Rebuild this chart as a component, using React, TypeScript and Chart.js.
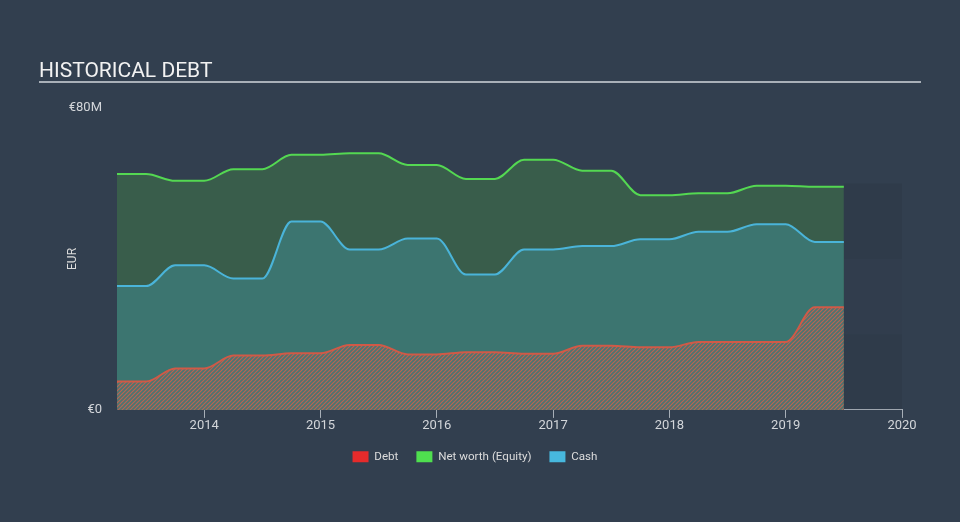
import React, { useEffect, useRef } from 'react';
import { Chart, registerables } from 'chart.js';

Chart.register(...registerables);

// ---- data (EUR millions) ----
const quarters = [
  2013.25, 2013.5, 2013.75, 2014.0, 2014.25, 2014.5, 2014.75, 2015.0, 2015.25, 2015.5,
  2015.75, 2016.0, 2016.25, 2016.5, 2016.75, 2017.0, 2017.25, 2017.5, 2017.75, 2018.0,
  2018.25, 2018.5, 2018.75, 2019.0, 2019.25, 2019.5,
];
const debt = [
  7.5, 7.5, 11.0, 11.0, 14.4, 14.4, 15.0, 15.0, 17.2, 17.2,
  14.7, 14.7, 15.3, 15.3, 14.9, 14.9, 17.0, 17.0, 16.6, 16.6,
  18.0, 18.0, 18.0, 18.0, 27.2, 27.2,
];
const equity = [
  62.5, 62.5, 60.7, 60.7, 63.8, 63.8, 67.6, 67.6, 68.0, 68.0,
  64.9, 64.9, 61.2, 61.2, 66.3, 66.3, 63.4, 63.4, 56.9, 56.9,
  57.4, 57.4, 59.4, 59.4, 59.1, 59.1,
];
const cash = [
  32.8, 32.8, 38.3, 38.3, 34.8, 34.8, 49.9, 49.9, 42.5, 42.5,
  45.4, 45.4, 35.9, 35.9, 42.5, 42.5, 43.4, 43.4, 45.2, 45.2,
  47.2, 47.2, 49.2, 49.2, 44.5, 44.5,
];
const xTickYears = [2014, 2015, 2016, 2017, 2018, 2019, 2020];
const yTickValues = [0, 80];
const seriesNames = ['Debt', 'Net worth (Equity)', 'Cash'];
const legendColors = ['#e52b2b', '#4fdf4f', '#47b8de'];
const forecastEnd = 2020;
const forecastBands = [0, 20, 40, 60];
const titleText = 'HISTORICAL DEBT';
const yAxisTitle = 'EUR';

const BG = '#323f4f';

function makeHatch(): CanvasPattern | string {
  const c = document.createElement('canvas');
  c.width = 4;
  c.height = 4;
  const g = c.getContext('2d');
  if (!g) return 'rgba(200,90,70,0.5)';
  g.fillStyle = 'rgba(120,120,115,0.25)';
  g.fillRect(0, 0, 4, 4);
  g.strokeStyle = 'rgba(210,95,75,0.85)';
  g.lineWidth = 1.1;
  g.beginPath();
  g.moveTo(0, 4);
  g.lineTo(4, 0);
  g.moveTo(-1, 1);
  g.lineTo(1, -1);
  g.moveTo(3, 5);
  g.lineTo(5, 3);
  g.stroke();
  const p = g.createPattern(c, 'repeat');
  return p || 'rgba(200,90,70,0.5)';
}

const titlePlugin = {
  id: 'titleBg',
  beforeDraw(chart: any) {
    const { ctx, width, height } = chart;
    ctx.save();
    ctx.fillStyle = BG;
    ctx.fillRect(0, 0, width, height);
    ctx.fillStyle = '#f2f2f2';
    ctx.font = '21px Roboto';
    ctx.textBaseline = 'alphabetic';
    ctx.textAlign = 'left';
    ctx.fillText(titleText, 39, 77);
    ctx.fillStyle = '#a9b0b8';
    ctx.fillRect(39, 81, 882, 2);
    ctx.restore();
  },
};

const forecastPlugin = {
  id: 'forecast',
  beforeDatasetsDraw(chart: any) {
    const { ctx, scales } = chart;
    const xs = scales.x;
    const ys = scales.y;
    const x0 = xs.getPixelForValue(quarters[quarters.length - 1]);
    const x1 = xs.getPixelForValue(forecastEnd);
    const shades = ['rgba(0,0,0,0.055)', 'rgba(0,0,0,0.02)', 'rgba(0,0,0,0.055)'];
    ctx.save();
    for (let i = 0; i < forecastBands.length - 1; i++) {
      const yTop = ys.getPixelForValue(forecastBands[i + 1]);
      const yBot = ys.getPixelForValue(forecastBands[i]);
      ctx.fillStyle = shades[i];
      ctx.fillRect(x0, yTop, x1 - x0, yBot - yTop);
    }
    ctx.restore();
  },
};

export default function App() {
  const ref = useRef<HTMLCanvasElement | null>(null);

  useEffect(() => {
    document.body.style.margin = '0';
    document.body.style.background = BG;
    const canvas = ref.current;
    if (!canvas) return;
    const hatch = makeHatch();
    const pts = (arr: number[]) => quarters.map((q, i) => ({ x: q, y: arr[i] }));
    const common = {
      pointRadius: 0,
      pointHoverRadius: 0,
      borderWidth: 2,
      cubicInterpolationMode: 'monotone' as const,
      fill: 'origin',
    };
    const chart = new Chart(canvas, {
      type: 'line',
      data: {
        datasets: [
          {
            ...common,
            label: seriesNames[0],
            data: pts(debt),
            borderColor: '#d05a47',
            backgroundColor: hatch as any,
            order: 0,
          },
          {
            ...common,
            label: seriesNames[1],
            data: pts(equity),
            borderColor: '#54d852',
            backgroundColor: '#395d4b',
            order: 2,
          },
          {
            ...common,
            label: seriesNames[2],
            data: pts(cash),
            borderColor: '#4ab4d9',
            backgroundColor: '#3c7570',
            order: 1,
          },
        ] as any,
      },
      options: {
        animation: false,
        responsive: false,
        maintainAspectRatio: false,
        events: [],
        layout: { padding: { left: 48, right: 58, top: 108, bottom: 49.5 } },
        plugins: {
          tooltip: { enabled: false },
          legend: {
            position: 'bottom',
            labels: {
              color: '#dcdcdc',
              font: { family: 'Roboto', size: 11.6 },
              boxWidth: 16,
              boxHeight: 11,
              padding: 18,
              generateLabels: (ch: any) =>
                ch.data.datasets.map((ds: any, i: number) => ({
                  text: ds.label,
                  fillStyle: legendColors[i],
                  strokeStyle: legendColors[i],
                  lineWidth: 0,
                  hidden: false,
                  datasetIndex: i,
                  fontColor: '#dcdcdc',
                })),
            },
          },
        },
        scales: {
          x: {
            type: 'linear',
            min: quarters[0],
            max: forecastEnd,
            afterBuildTicks: (s: any) => {
              s.ticks = xTickYears.map((v) => ({ value: v }));
            },
            afterFit: (s: any) => {
              s.height = 23;
            },
            ticks: {
              color: '#d3d6da',
              font: { family: 'Roboto', size: 13 },
              padding: 0,
              maxRotation: 0,
              autoSkip: false,
              callback: (v: any) => String(v),
            },
            grid: {
              display: true,
              drawOnChartArea: false,
              drawTicks: true,
              tickLength: 8,
              color: '#a7afb8',
              tickColor: '#a7afb8',
            },
            border: { display: true, color: '#a7afb8', width: 1 },
          },
          y: {
            type: 'linear',
            min: yTickValues[0],
            max: yTickValues[yTickValues.length - 1],
            afterBuildTicks: (s: any) => {
              s.ticks = yTickValues.map((v) => ({ value: v }));
            },
            afterFit: (s: any) => {
              s.width = 69;
            },
            ticks: {
              color: '#d3d6da',
              font: { family: 'Roboto', size: 13 },
              padding: 15,
              callback: (v: any) => (v === 0 ? '€0' : '€' + v + 'M'),
            },
            grid: { display: false, drawTicks: false },
            border: { display: false },
            title: {
              display: true,
              text: yAxisTitle,
              color: '#dcdcdc',
              font: { family: 'Roboto', size: 12 },
              padding: { top: 18, bottom: 4 },
            },
          },
        },
      },
      plugins: [titlePlugin, forecastPlugin],
    });
    return () => chart.destroy();
  }, []);

  return (
    <div style={{ width: 960, height: 522, background: BG }}>
      <canvas ref={ref} width={960} height={522} style={{ display: 'block', width: 960, height: 522 }} />
    </div>
  );
}
